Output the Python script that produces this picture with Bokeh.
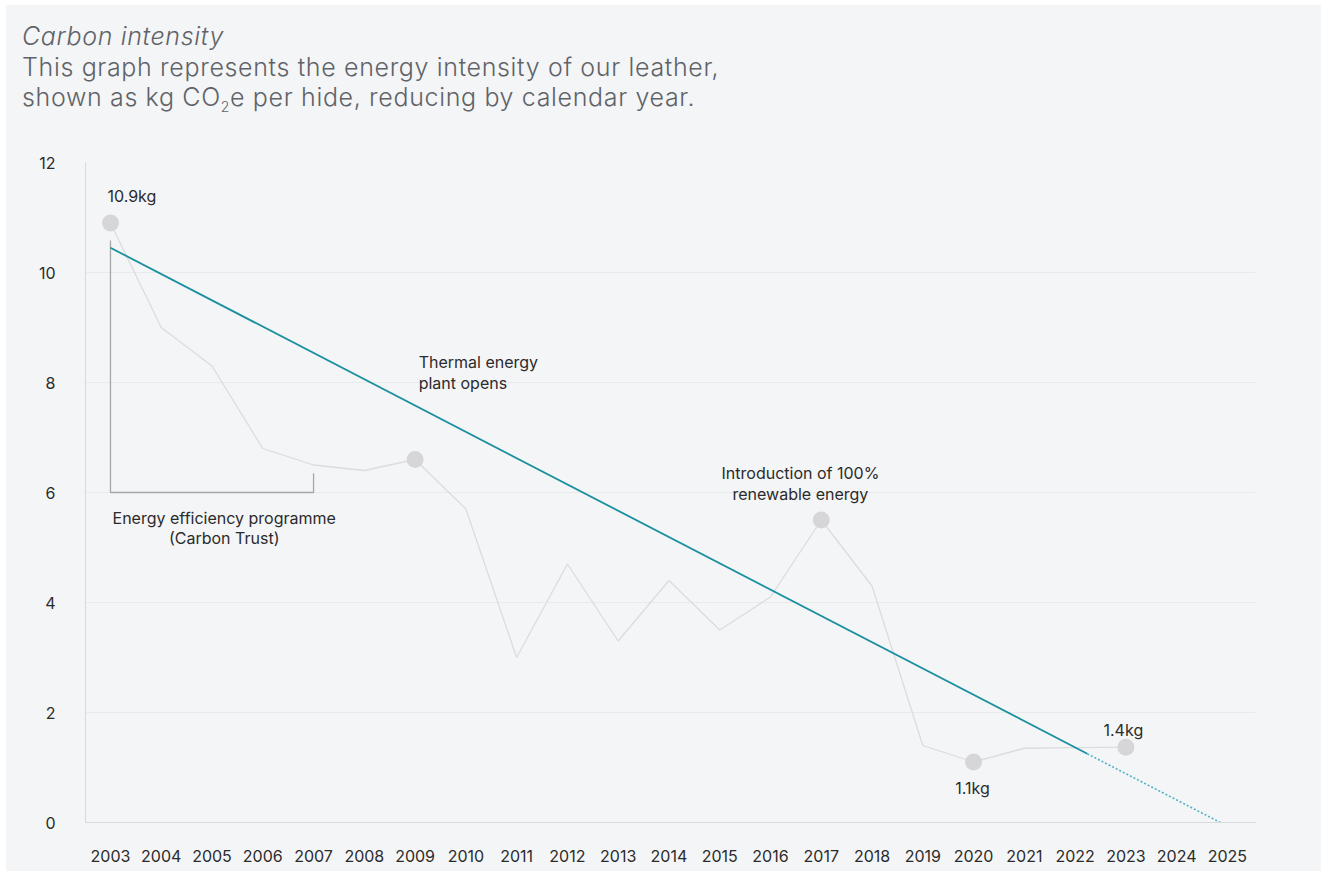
from bokeh.plotting import figure
from bokeh.models import Range1d, FixedTicker, Div
from bokeh.layouts import column
from bokeh.core.properties import value
from bokeh.embed import file_html
from bokeh.resources import INLINE

# ---- data ----
years = list(range(2003, 2024))
intensity = [10.9, 9.0, 8.3, 6.8, 6.5, 6.4, 6.6, 5.7, 3.0, 4.7, 3.3, 4.4, 3.5, 4.1,
             5.5, 4.3, 1.4, 1.1, 1.35, 1.36, 1.37]
marker_years = [2003, 2009, 2017, 2020, 2023]
marker_values = [10.9, 6.6, 5.5, 1.1, 1.37]

trend_solid_x = [2003, 2022.24]
trend_solid_y = [10.45, 1.25]
trend_dot_x = [2022.24, 2024.86]
trend_dot_y = [1.25, 0.0]

bracket_x = [2003, 2003, 2007, 2007]
bracket_y = [10.58, 6.0, 6.0, 6.35]

x_ticks = list(range(2003, 2026))
y_ticks = [0, 2, 4, 6, 8, 10, 12]

title_text = "Carbon intensity"
subtitle_1 = "This graph represents the energy intensity of our leather,"
subtitle_2 = "shown as kg CO<sub style='font-size:14px'>2</sub>e per hide, reducing by calendar year."

FONT = "Inter"
BG = "#f4f5f7"

header = Div(
    text=(f"<div style=\"padding:16px 0 0 16px; line-height:30.5px; font-family:'{FONT}';"
          f" font-size:25px; font-weight:300; letter-spacing:0.65px; color:#5f6368;\">"
          f"<i>{title_text}</i><br>{subtitle_1}<br>{subtitle_2}</div>"),
    width=1315, height=121, margin=0,
    styles={"background-color": BG})

p = figure(width=1315, height=745, output_backend="svg", toolbar_location=None,
           x_range=Range1d(2002.508, 2025.553), y_range=Range1d(0, 12),
           min_border_left=79, min_border_right=66, min_border_top=36,
           min_border_bottom=49, margin=0)
p.background_fill_color = BG
p.border_fill_color = BG
p.outline_line_color = None

for ax in (p.xaxis[0], p.yaxis[0]):
    ax.axis_line_color = "#d8d9dc"
    ax.major_tick_line_color = None
    ax.minor_tick_line_color = None
    ax.major_label_text_font = FONT
    ax.major_label_text_font_size = "16px"
    ax.major_label_text_color = "#2b2b2b"
p.xaxis.ticker = FixedTicker(ticks=x_ticks)
p.yaxis.ticker = FixedTicker(ticks=y_ticks)
p.xaxis.major_label_standoff = 21
p.yaxis.major_label_standoff = 24
p.xgrid.grid_line_color = None
p.ygrid.grid_line_color = "#e9eaec"
p.ygrid.ticker = FixedTicker(ticks=y_ticks)

# gray data line and dots
p.line(years, intensity, line_color="#dcdcde", line_width=1.3)
p.scatter(marker_years, marker_values, size=17, fill_color="#d6d6d8", line_color=None)

# bracket
p.line(bracket_x, bracket_y, line_color="#a6a7aa", line_width=1.3)

# trend line
p.line(trend_solid_x, trend_solid_y, line_color="#1a8fa0", line_width=1.8)
p.line(trend_dot_x, trend_dot_y, line_color="#4db3c5", line_width=1.6, line_dash="2 2")

# annotations
def txt(x, y, s, align="left"):
    p.text([x], [y], text=[s], text_font=value(FONT), text_font_size="16px",
           text_color="#2b2b2b", text_align=align, text_baseline="middle")

txt(2002.94, 11.40, "10.9kg")
txt(2009.07, 8.38, "Thermal energy")
txt(2009.07, 8.00, "plant opens")
txt(2016.59, 6.36, "Introduction of 100%", "center")
txt(2016.59, 5.98, "renewable energy", "center")
txt(2005.24, 5.545, "Energy efficiency programme", "center")
txt(2005.24, 5.164, "(Carbon Trust)", "center")
txt(2019.98, 0.62, "1.1kg", "center")
txt(2022.95, 1.69, "1.4kg", "center")

layout = column(header, p, margin=(5, 1, 1, 6), spacing=0,
                styles={"background-color": BG})

open("out.html", "w").write(file_html(layout, INLINE))
